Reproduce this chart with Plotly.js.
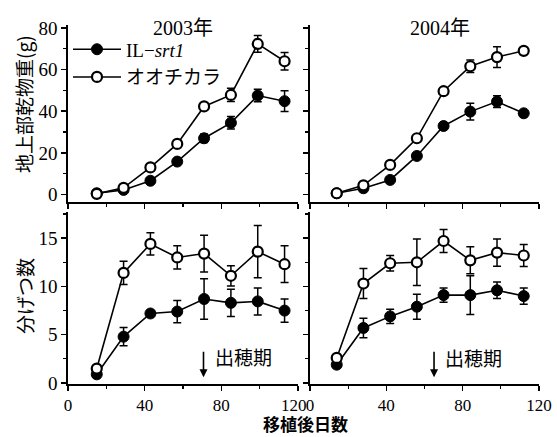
<!DOCTYPE html>
<html>
<head>
<meta charset="utf-8">
<script src="https://cdn.plot.ly/plotly-3.0.1.min.js"></script>
<style>html,body{margin:0;padding:0;background:#fff;}</style>
</head>
<body>
<div id="chart" style="width:557px;height:437px;"></div>
<script>
// ---- data ----
const days2003 = [15, 29, 43, 57, 71, 85, 99, 113];
const days2004 = [14, 28, 42, 56, 70, 84, 98, 112];

// shoot dry weight (g)
const dw2003_IL = [0.6, 2.2, 6.6, 15.8, 27.0, 34.4, 47.5, 44.8];
const dw2003_IL_err = [0.3, 0.5, 0.8, 1.0, 2.0, 3.0, 3.0, 5.0];
const dw2003_OO = [0.3, 3.2, 13.0, 24.3, 42.3, 47.8, 72.3, 64.0];
const dw2003_OO_err = [0.3, 0.5, 0.8, 1.0, 1.2, 3.2, 4.0, 4.2];

const dw2004_IL = [0.6, 3.0, 7.0, 18.5, 32.9, 39.8, 44.6, 39.0];
const dw2004_IL_err = [0.3, 0.5, 0.6, 0.8, 1.0, 4.0, 2.8, 0.8];
const dw2004_OO = [0.6, 4.4, 14.2, 27.0, 49.6, 61.6, 66.0, 69.0];
const dw2004_OO_err = [0.3, 0.6, 0.8, 1.0, 1.2, 3.0, 5.0, 1.0];

// tiller number
const tl2003_IL = [0.9, 4.8, 7.2, 7.4, 8.7, 8.3, 8.45, 7.5];
const tl2003_IL_err = [0.2, 0.95, 0.2, 1.15, 2.1, 1.4, 1.4, 1.2];
const tl2003_OO = [1.5, 11.4, 14.4, 13.0, 13.4, 11.1, 13.6, 12.3];
const tl2003_OO_err = [0.3, 1.2, 1.15, 1.2, 1.9, 1.05, 2.7, 1.9];

const tl2004_IL = [1.9, 5.7, 6.9, 7.9, 9.1, 9.1, 9.6, 9.0];
const tl2004_IL_err = [0.35, 1.0, 0.75, 1.3, 0.75, 2.0, 0.85, 0.85];
const tl2004_OO = [2.6, 10.3, 12.4, 12.5, 14.7, 12.7, 13.5, 13.2];
const tl2004_OO_err = [0.3, 1.55, 0.8, 2.4, 1.2, 1.4, 1.4, 1.15];

const seriesNames = ['IL−<i>srt1</i>', 'オオチカラ'];
const yearTitles = ['2003年', '2004年'];
const headingDay = [70.7, 65];
const headingLabel = '出穂期';
const xTickVals = [0, 40, 80, 120];
const xTickTextLeft = ['0', '40', '80', '120\u2002'];
const xTickTextRight = ['0', '40', '80', '120'];

// ---- styling ----
const serif = 'Liberation Serif, Times New Roman, Noto Sans CJK JP, serif';
const cjk = 'Noto Sans CJK JP, sans-serif';

function series(x, y, err, filled, xa, ya, name, showlegend) {
  return {
    x: x, y: y, xaxis: xa, yaxis: ya, name: name, showlegend: showlegend,
    type: 'scatter', mode: 'lines+markers',
    line: {color: '#000', width: 1.6},
    marker: filled ? {symbol: 'circle', size: 11, color: '#000', line: {color: '#000', width: 1}}
                   : {symbol: 'circle', size: 10, color: '#fff', line: {color: '#000', width: 2.2}},
    error_y: {type: 'data', array: err, visible: true, color: '#000', thickness: 1.5, width: 4},
    cliponaxis: false
  };
}

const traces = [
  series(days2003, dw2003_IL, dw2003_IL_err, true, 'x', 'y', seriesNames[0], true),
  series(days2003, dw2003_OO, dw2003_OO_err, false, 'x', 'y', seriesNames[1], true),
  series(days2004, dw2004_IL, dw2004_IL_err, true, 'x2', 'y2', seriesNames[0], false),
  series(days2004, dw2004_OO, dw2004_OO_err, false, 'x2', 'y2', seriesNames[1], false),
  series(days2003, tl2003_IL, tl2003_IL_err, true, 'x3', 'y3', seriesNames[0], false),
  series(days2003, tl2003_OO, tl2003_OO_err, false, 'x3', 'y3', seriesNames[1], false),
  series(days2004, tl2004_IL, tl2004_IL_err, true, 'x4', 'y4', seriesNames[0], false),
  series(days2004, tl2004_OO, tl2004_OO_err, false, 'x4', 'y4', seriesNames[1], false)
];

function xax(domain, anchor, labels, ticktext) {
  return {
    domain: domain, anchor: anchor, range: [0, 120],
    tickmode: 'array', tickvals: xTickVals, ticktext: ticktext,
    ticks: 'outside', ticklen: 5, tickwidth: 1.5, tickcolor: '#000',
    minor: {dtick: 20, tick0: 0, ticks: 'outside', ticklen: 3, tickwidth: 1.2, tickcolor: '#000', showgrid: false},
    showline: true, linecolor: '#000', linewidth: 1.8,
    showgrid: false, zeroline: false, showticklabels: labels,
    tickfont: {family: serif, size: 17, color: '#000'}
  };
}
function yax(domain, anchor, range, dtick, labels) {
  return {
    domain: domain, anchor: anchor, range: range, tick0: 0, dtick: dtick,
    ticks: 'outside', ticklen: 5, tickwidth: 1.5, tickcolor: '#000',
    minor: {dtick: dtick / 2, ticks: 'outside', ticklen: 3, tickwidth: 1.2, tickcolor: '#000', showgrid: false},
    showline: true, linecolor: '#000', linewidth: 1.8,
    showgrid: false, zeroline: false, showticklabels: labels,
    tickfont: {family: serif, size: 19, color: '#000'}
  };
}

const leftDom = [0, 0.4883];
const rightDom = [0.5138, 1];
const topDom = [0.507, 1];
const botDom = [0, 0.479];

const layout = {
  width: 557, height: 437,
  margin: {l: 68, r: 18, t: 25, b: 53},
  paper_bgcolor: '#fff', plot_bgcolor: 'rgba(0,0,0,0)',
  showlegend: true,
  legend: {
    x: 0.0, y: 0.985, xanchor: 'left', yanchor: 'top',
    bgcolor: 'rgba(0,0,0,0)', borderwidth: 0,
    font: {family: serif, size: 19, color: '#000'},
    itemwidth: 48, tracegroupgap: 0
  },
  xaxis: xax(leftDom, 'y', false, xTickTextLeft),
  xaxis2: xax(rightDom, 'y2', false, xTickTextRight),
  xaxis3: xax(leftDom, 'y3', true, xTickTextLeft),
  xaxis4: xax(rightDom, 'y4', true, xTickTextRight),
  yaxis: yax(topDom, 'x', [-3.6, 81.4], 20, true),
  yaxis2: yax(topDom, 'x2', [-3.6, 81.4], 20, false),
  yaxis3: yax(botDom, 'x3', [-0.1, 17.7], 5, true),
  yaxis4: yax(botDom, 'x4', [-0.1, 17.7], 5, false),
  annotations: [
    {text: yearTitles[0], xref: 'paper', yref: 'paper', x: 0.244, y: 0.992, showarrow: false,
     xanchor: 'center', yanchor: 'middle', font: {family: serif, size: 20, color: '#000'}},
    {text: yearTitles[1], xref: 'paper', yref: 'paper', x: 0.790, y: 0.992, showarrow: false,
     xanchor: 'center', yanchor: 'middle', font: {family: serif, size: 20, color: '#000'}},
    {text: '地上部乾物重(g)', xref: 'paper', yref: 'paper', x: -0.0934, y: 0.78, textangle: -90,
     showarrow: false, xanchor: 'center', yanchor: 'middle', font: {family: cjk, size: 19, color: '#000'}},
    {text: '分げつ数', xref: 'paper', yref: 'paper', x: -0.0934, y: 0.245, textangle: -90,
     showarrow: false, xanchor: 'center', yanchor: 'middle', font: {family: cjk, size: 19, color: '#000'}},
    {text: '<b>移植後日数</b>', xref: 'paper', yref: 'paper', x: 0.505, y: -0.1114,
     showarrow: false, xanchor: 'center', yanchor: 'middle', font: {family: cjk, size: 17, color: '#000'}},
    {text: headingLabel, xref: 'x3', yref: 'y3', x: 75.5, y: 2.7, showarrow: false,
     xanchor: 'left', yanchor: 'middle', font: {family: cjk, size: 19, color: '#000'}},
    {text: headingLabel, xref: 'x4', yref: 'y4', x: 69.7, y: 2.6, showarrow: false,
     xanchor: 'left', yanchor: 'middle', font: {family: cjk, size: 19, color: '#000'}},
    {text: '', xref: 'x3', yref: 'y3', x: headingDay[0], y: 0.6, axref: 'x3', ayref: 'y3',
     ax: headingDay[0], ay: 3.4, showarrow: true, arrowhead: 2, arrowsize: 1, arrowwidth: 1.6, arrowcolor: '#000'},
    {text: '', xref: 'x4', yref: 'y4', x: headingDay[1], y: 0.6, axref: 'x4', ayref: 'y4',
     ax: headingDay[1], ay: 3.4, showarrow: true, arrowhead: 2, arrowsize: 1, arrowwidth: 1.6, arrowcolor: '#000'}
  ]
};

Plotly.newPlot('chart', traces, layout, {displayModeBar: false, staticPlot: true});
</script>
</body>
</html>
